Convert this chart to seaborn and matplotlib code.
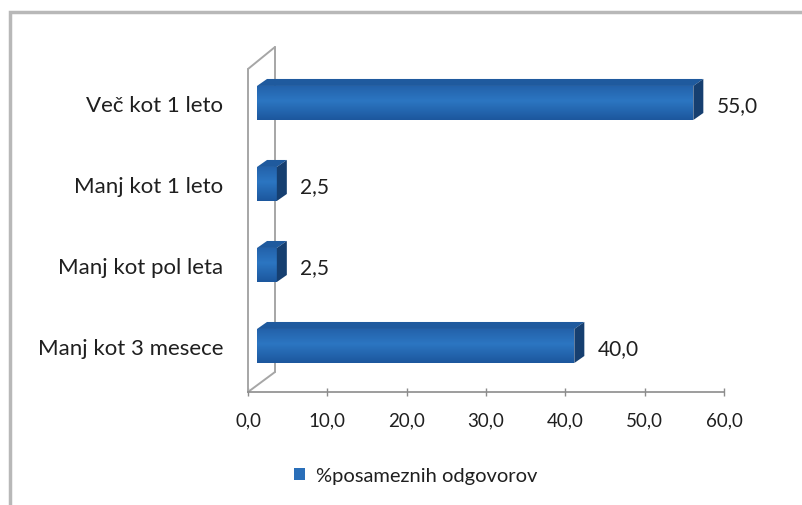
import numpy as np
import pandas as pd
import seaborn as sns
import matplotlib
matplotlib.use("Agg")
import matplotlib.pyplot as plt
from matplotlib.transforms import ScaledTranslation
from matplotlib.patches import Polygon, Rectangle, Patch
from matplotlib.lines import Line2D

# --- data ---
categories = ["Več kot 1 leto", "Manj kot 1 leto", "Manj kot pol leta", "Manj kot 3 mesece"]
values = [55.0, 2.5, 2.5, 40.0]
series_name = "%posameznih odgovorov"
x_ticks = [0, 10, 20, 30, 40, 50, 60]

W, H = 802, 506
sns.set_theme(style="white")
plt.rcParams["font.family"] = ["Lato", "DejaVu Sans"]

fig = plt.figure(figsize=(W / 100, H / 100), dpi=100)
fig.patch.set_facecolor("white")
ax_left, ax_right, ax_top, ax_bottom = 248, 724, 48, 393
ax = fig.add_axes([ax_left / W, 1 - ax_bottom / H,
                   (ax_right - ax_left) / W, (ax_bottom - ax_top) / H])

front = "#2a6fb9"
top_c = "#1f5a9e"
side_c = "#163f70"
wall_c = "#a6a6a6"
text_c = "#1f1f1f"

df = pd.DataFrame({"kategorija": categories, "delez": values})
sns.barplot(data=df, y="kategorija", x="delez", orient="h", color=front,
            saturation=1, width=0.42, ax=ax, zorder=3)

ylim = (3.568, -0.691)
ax.set_xlim(0, 60)
ax.set_ylim(*ylim)
px_x = (ax_right - ax_left) / 60.0          # pixels per x unit
px_y = (ax_bottom - ax_top) / (ylim[0] - ylim[1])  # pixels per category step

# 3D look: bars sit a little behind the front plane, with top and side faces
shift_px = 9
ox = shift_px / px_x
dx = 10 / px_x
dy = -7 / px_y
grad = np.linspace(0, 1, 64)
c_top = np.array(matplotlib.colors.to_rgb("#2361a9"))
c_mid = np.array(matplotlib.colors.to_rgb("#2c76c2"))
c_bot = np.array(matplotlib.colors.to_rgb("#1c579d"))
rows = []
for g in grad:
    if g < 0.45:
        t = g / 0.45
        rows.append(c_top * (1 - t) + c_mid * t)
    else:
        t = (g - 0.45) / 0.55
        rows.append(c_mid * (1 - t) + c_bot * t)
grad_img = np.array(rows)[:, None, :]

for bar, v in zip(ax.patches, values):
    y0 = bar.get_y()
    h = bar.get_height()
    y1 = y0 + h
    w = bar.get_width()
    bar.set_transform(ax.transData + ScaledTranslation(shift_px / 100, 0, fig.dpi_scale_trans))
    bar.set_edgecolor("none")
    xa, xb = ox, ox + w
    front_poly = Polygon([(xa, y0), (xb, y0), (xb, y1), (xa, y1)], closed=True,
                         fc="none", ec="none")
    ax.add_patch(front_poly)
    im = ax.imshow(grad_img, extent=[xa, xb, y1, y0], aspect="auto",
                   origin="upper", zorder=4, interpolation="bilinear")
    im.set_clip_path(front_poly)
    ax.add_patch(Polygon([(xa, y0), (xb, y0), (xb + dx, y0 + dy), (xa + dx, y0 + dy)],
                         closed=True, fc=top_c, ec="none", zorder=4))
    ax.add_patch(Polygon([(xb, y0), (xb + dx, y0 + dy), (xb + dx, y1 + dy), (xb, y1)],
                         closed=True, fc=side_c, ec="none", zorder=4))
    ax.text(xb + dx + 13 / px_x, (y0 + y1) / 2 + 2 / px_y, f"{v:.1f}".replace(".", ","),
            va="center", ha="left", fontsize=15, color=text_c, zorder=5)

ax.set_xlim(0, 60)
ax.set_ylim(*ylim)

# back wall outline
wall_dx = 27 / px_x
y_front_top = ylim[1] + 22 / px_y
y_back_bot = ylim[0] - 20 / px_y
for xs, ys in [([0, 0], [ylim[0], y_front_top]),
               ([wall_dx, wall_dx], [y_back_bot, ylim[1]]),
               ([0, wall_dx], [y_front_top, ylim[1]]),
               ([0, wall_dx], [ylim[0], y_back_bot])]:
    ax.add_line(Line2D(xs, ys, color=wall_c, lw=1.4, clip_on=False, zorder=2))

for s in ["top", "right", "left"]:
    ax.spines[s].set_visible(False)
ax.spines["bottom"].set_color("#8c8c8c")
ax.spines["bottom"].set_linewidth(1.2)

ax.set_xticks(x_ticks)
ax.set_xticklabels([f"{t:.1f}".replace(".", ",") for t in x_ticks])
ax.tick_params(axis="x", direction="inout", length=6, width=1, color="#8c8c8c",
               labelsize=13.5, labelcolor=text_c, pad=11, bottom=True)
ax.tick_params(axis="y", length=0, labelsize=16, labelcolor=text_c, pad=18)
ax.set_xlabel("")
ax.set_ylabel("")
ax.grid(False)

# outer chart frame
fig.add_artist(Rectangle((10 / W, -0.1), 1.2, 1 - 13 / H + 0.1, transform=fig.transFigure,
                         fill=False, ec="#b8b8b8", lw=2.5))

fig.legend(handles=[Patch(facecolor="#2a6fb9", edgecolor="none")], labels=[series_name],
           loc="center", bbox_to_anchor=(416 / W, 1 - 477 / H), frameon=False,
           handlelength=0.55, handleheight=0.55, handletextpad=0.55, fontsize=14.5,
           labelcolor=text_c)

fig.savefig("out.png", dpi=100)
